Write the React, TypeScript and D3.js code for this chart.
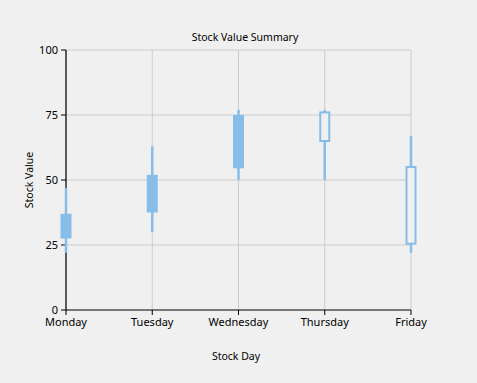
import React from "react";
import * as d3 from "d3";

const days = ["Monday", "Tuesday", "Wednesday", "Thursday", "Friday"];
const highs = [47, 63, 77, 77, 67];
const lows = [22, 30, 50, 50, 22];
const opens = [27.5, 37.5, 54.5, 76, 55];
const closes = [37, 52, 75, 65, 25.5];
const yTicks = [0, 25, 50, 75, 100];

const W = 477, H = 383;
const left = 66, right = 411, top = 50, bottom = 310;
const color = "#86bde9";

export default function App() {
  const x = d3.scalePoint<string>().domain(days).range([left, right]).padding(0);
  const y = d3.scaleLinear().domain([0, 100]).range([bottom, top]);
  const font = "'Noto Sans', 'Open Sans', sans-serif";
  const boxW = 11;
  return (
    <svg width={W} height={H} style={{ position: "absolute", left: 0, top: 0, background: "#f0f0f0" }} fontFamily={font}>
      <rect x={0} y={0} width={W} height={H} fill="#f0f0f0" />
      {yTicks.filter(t => t > 0).map(t => (
        <line key={"h" + t} x1={left} x2={right} y1={y(t)} y2={y(t)} stroke="#cccccc" strokeWidth={1} />
      ))}
      {days.map(d => (
        <line key={"v" + d} x1={x(d)!} x2={x(d)!} y1={top} y2={bottom} stroke="#cccccc" strokeWidth={1} />
      ))}
      <line x1={left} x2={left} y1={top} y2={bottom + 0.5} stroke="#000" strokeWidth={1.2} />
      <line x1={left} x2={right} y1={bottom} y2={bottom} stroke="#000" strokeWidth={1.2} />
      {yTicks.map(t => (
        <g key={"yt" + t}>
          <line x1={left - 5} x2={left} y1={y(t)} y2={y(t)} stroke="#000" strokeWidth={1} />
          <text x={left - 8} y={y(t)} dy="0.35em" textAnchor="end" fontSize={11} fill="#000">{t}</text>
        </g>
      ))}
      {days.map(d => (
        <g key={"xt" + d}>
          <line x1={x(d)!} x2={x(d)!} y1={bottom} y2={bottom + 5} stroke="#000" strokeWidth={1} />
          <text x={x(d)!} y={bottom + 16} textAnchor="middle" fontSize={11} fill="#000">{d}</text>
        </g>
      ))}
      {days.map((d, i) => {
        const cx = x(d)!;
        const o = opens[i], c = closes[i];
        const filled = c > o;
        const yt = y(Math.max(o, c)), yb = y(Math.min(o, c));
        return (
          <g key={"c" + d}>
            <line x1={cx} x2={cx} y1={y(highs[i])} y2={y(lows[i])} stroke={color} strokeWidth={2.5} />
            {filled ? (
              <rect x={cx - boxW / 2} y={yt} width={boxW} height={yb - yt} fill={color} />
            ) : (
              <rect x={cx - boxW / 2 + 1} y={yt} width={boxW - 2} height={yb - yt} fill="#f0f0f0" stroke={color} strokeWidth={2} />
            )}
          </g>
        );
      })}
      <text x={245} y={41} textAnchor="middle" fontSize={10.5} fill="#000">Stock Value Summary</text>
      <text x={236} y={360} textAnchor="middle" fontSize={10.5} fill="#000">Stock Day</text>
      <text transform={`translate(33,180) rotate(-90)`} textAnchor="middle" fontSize={10.5} fill="#000">Stock Value</text>
    </svg>
  );
}
